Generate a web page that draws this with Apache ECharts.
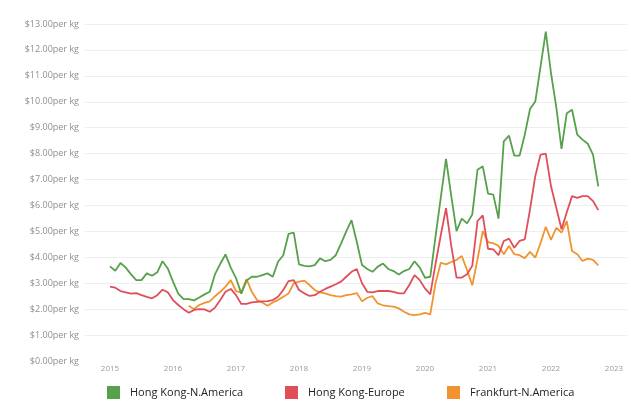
<!DOCTYPE html>
<html>
<head>
<meta charset="utf-8">
<script src="https://cdn.jsdelivr.net/npm/echarts@6/dist/echarts.min.js"></script>
<style>
html,body{margin:0;padding:0;background:#fff;}
#chart{width:631px;height:403px;}
</style>
</head>
<body>
<div id="chart"></div>
<script>
// Monthly values, January 2015 .. October 2022 (USD per kg)
const startYear = 2015;
const seriesNames = ['Hong Kong-N.America', 'Hong Kong-Europe', 'Frankfurt-N.America'];
const hkNAmerica = [
  3.65,3.48,3.78,3.6,3.34,3.12,3.12,3.38,3.29,3.42,3.85,3.57,
  3.06,2.6,2.39,2.39,2.34,2.45,2.57,2.67,3.35,3.75,4.11,3.6,
  3.2,2.6,3.1,3.25,3.25,3.31,3.38,3.25,3.83,4.08,4.9,4.95,
  3.73,3.67,3.65,3.7,3.96,3.85,3.9,4.08,4.53,5.0,5.43,4.6,
  3.7,3.55,3.44,3.64,3.76,3.55,3.47,3.34,3.47,3.55,3.85,3.6,
  3.21,3.25,4.8,6.3,7.8,6.36,5.01,5.49,5.31,5.65,7.38,7.51,
  6.46,6.42,5.49,8.47,8.69,7.92,7.92,8.73,9.72,10.01,11.36,12.71,
  11.1,9.79,8.18,9.56,9.69,8.73,8.54,8.38,7.96,6.74
];
const hkEurope = [
  2.87,2.83,2.7,2.65,2.6,2.62,2.54,2.47,2.42,2.54,2.75,2.65,
  2.35,2.16,2.0,1.86,1.97,2.0,1.99,1.9,2.06,2.35,2.67,2.78,
  2.54,2.2,2.2,2.26,2.28,2.3,2.31,2.35,2.48,2.74,3.08,3.12,
  2.74,2.61,2.51,2.54,2.67,2.78,2.87,2.96,3.06,3.25,3.44,3.55,
  3.0,2.67,2.65,2.7,2.7,2.7,2.67,2.61,2.61,2.93,3.31,3.12,
  2.8,2.57,3.75,4.85,5.9,4.44,3.22,3.22,3.35,3.67,5.4,5.62,
  4.33,4.31,4.08,4.63,4.72,4.37,4.63,4.69,5.85,7.13,7.96,8.0,
  6.74,5.91,5.08,5.74,6.36,6.29,6.36,6.36,6.17,5.82
];
const frankfurtNAmerica = [
  null,null,null,null,null,null,null,null,null,null,null,null,
  null,null,null,2.13,2.0,2.16,2.24,2.3,2.5,2.67,2.87,3.12,
  2.7,2.65,3.16,2.67,2.35,2.26,2.13,2.26,2.35,2.48,2.6,3.0,
  3.06,3.1,2.93,2.74,2.65,2.61,2.54,2.5,2.48,2.54,2.57,2.62,
  2.3,2.44,2.5,2.22,2.15,2.12,2.1,2.03,1.9,1.8,1.77,1.8,
  1.86,1.8,3.0,3.79,3.73,3.82,3.9,4.05,3.51,2.92,3.92,5.01,
  4.59,4.54,4.44,4.12,4.44,4.12,4.08,3.97,4.21,3.99,4.54,5.18,
  4.67,5.14,4.95,5.4,4.24,4.12,3.86,3.95,3.9,3.69
];
const yearTicks = [2015,2016,2017,2018,2019,2020,2021,2022,2023];
const colors = ['#57a04c', '#df4f5a', '#f1942f'];

function toPoints(arr){
  return arr.map((v,i)=>[startYear + i/12, v]);
}

const chart = echarts.init(document.getElementById('chart'), null, {renderer:'canvas'});
const legendLefts = [102, 280, 442];
const option = {
  animation: false,
  backgroundColor: '#ffffff',
  grid: {left: 85, right: 4, top: 24, bottom: 42, containLabel: false},
  legend: seriesNames.map((n,i)=>({
    data: [n],
    left: legendLefts[i],
    top: 381,
    icon: 'rect',
    itemWidth: 13,
    itemHeight: 13,
    textStyle: {fontFamily: 'Open Sans', fontSize: 11, color: '#222', padding: [0,0,0,5]}
  })),
  xAxis: {
    type: 'value',
    min: 2014.603,
    max: 2023.206,
    axisLine: {show: false},
    axisTick: {show: false},
    splitLine: {show: false},
    axisLabel: {
      customValues: yearTicks,
      formatter: v => String(Math.round(v)),
      fontFamily: 'Open Sans', fontSize: 8, color: '#9a9a9a', margin: 4
    }
  },
  yAxis: {
    type: 'value',
    min: 0, max: 13, interval: 1,
    axisLine: {show: false},
    axisTick: {show: false},
    splitLine: {show: true, showMinLine: false, lineStyle: {color: '#eeeeee', width: 1}},
    axisLabel: {
      formatter: v => '$' + v.toFixed(2) + 'per kg',
      fontFamily: 'Open Sans', fontSize: 9, color: '#8f8f8f', margin: 6
    }
  },
  series: [hkNAmerica, hkEurope, frankfurtNAmerica].map((arr,i)=>({
    name: seriesNames[i],
    type: 'line',
    data: toPoints(arr),
    showSymbol: false,
    symbol: 'none',
    connectNulls: false,
    itemStyle: {color: colors[i]},
    lineStyle: {color: colors[i], width: 1.8},
    z: 3 - i
  }))
};
chart.setOption(option);
</script>
</body>
</html>
